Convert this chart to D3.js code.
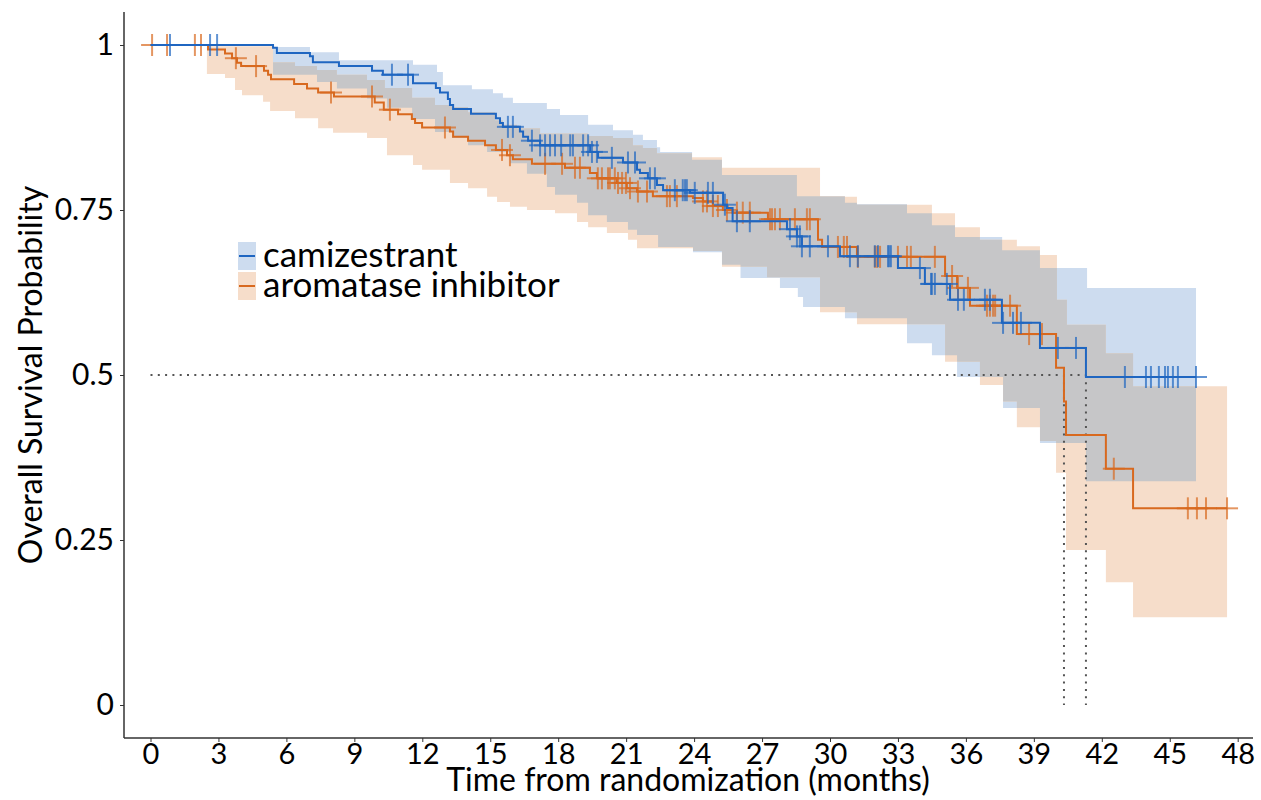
<!DOCTYPE html>
<html>
<head>
<meta charset="utf-8">
<script src="https://cdn.jsdelivr.net/npm/d3@7"></script>
<style>
  body { margin: 0; background: #fff; }
  text { font-family: Lato, "Open Sans", sans-serif; fill: #000; }
</style>
</head>
<body>
<svg id="chart" width="1261" height="800"></svg>
<script>
// Kaplan-Meier steps: [month, survival after the step]
const camiSteps = [[0,1],[5.41,0.996],[5.58,0.988],[7.04,0.983],[7.17,0.974],[8.32,0.968],[9.78,0.961],[10.26,0.955],
  [11.59,0.942],[12.60,0.935],[12.78,0.928],[13.13,0.918],[13.22,0.909],[13.36,0.903],[14.15,0.896],[15.25,0.889],
  [15.43,0.882],[15.56,0.876],[16.31,0.869],[16.45,0.861],[16.67,0.855],[17.2,0.848],[19.41,0.838],[19.76,0.829],
  [20.86,0.822],[21.48,0.811],[21.61,0.806],[21.96,0.798],[22.36,0.788],[22.63,0.780],[23.82,0.776],[25.28,0.758],
  [25.45,0.753],[25.7,0.733],[28.1,0.721],[28.54,0.710],[28.76,0.695],[30.44,0.680],[33.0,0.662],[34.19,0.638],
  [35.3,0.614],[37.59,0.579],[39.27,0.541],[41.3,0.497]]
const camiEnd = 46.16

const aiSteps = [[0,1],[2.54,0.993],[3.29,0.987],[3.60,0.980],[3.82,0.973],[4.0,0.968],[5.01,0.961],[5.19,0.955],
  [5.32,0.948],[6.34,0.941],[6.91,0.934],[7.40,0.928],[8.10,0.922],[9.9,0.913],[10.3,0.902],[10.93,0.895],
  [11.54,0.888],[11.68,0.882],[11.99,0.875],[13.22,0.869],[13.36,0.861],[14.02,0.855],[14.77,0.848],[15.25,0.841],
  [15.74,0.833],[16.0,0.827],[16.84,0.820],[18.3,0.814],[19.4,0.806],[19.71,0.798],[20.59,0.791],[21.03,0.783],
  [21.48,0.778],[22.18,0.771],[23.95,0.768],[24.39,0.763],[24.83,0.756],[25.27,0.750],[25.7,0.746],[27.26,0.736],
  [29.47,0.705],[29.65,0.694],[31.19,0.679],[35.08,0.650],[35.61,0.632],[36.18,0.605],[38.25,0.562],[39.98,0.511],
  [40.33,0.460],[40.42,0.409],[42.18,0.358],[43.38,0.298]]
const aiEnd = 47.53

// censored times (months)
const camiCensor = [0.86,2.63,2.94,10.66,11.37,15.78,16.0,16.84,17.2,17.42,17.64,17.86,18.13,18.53,18.65,19.1,19.32,
  19.49,19.71,20.37,21.08,21.39,22.05,22.27,23.15,23.5,23.6,23.68,24.03,24.61,24.83,25.36,25.89,26.46,28.23,28.54,
  28.67,28.76,29.11,29.91,30.88,31.23,31.98,32.12,32.56,32.62,32.69,33.97,34.46,34.5,34.63,35.16,35.65,35.91,36.84,
  37.06,37.64,38.08,38.43,40.06,40.86,43.02,43.95,44.17,44.52,44.79,44.92,45.14,45.36,46.16]
const aiCensor = [0.07,0.73,1.96,2.23,3.77,4.66,7.97,9.78,10.57,13.0,15.52,15.87,17.42,18.17,18.74,18.96,19.75,19.93,
  20.2,20.28,20.5,20.64,20.82,20.99,21.17,21.52,21.92,22.8,22.93,23.24,24.39,24.57,24.83,25.05,25.45,25.89,26.15,
  26.46,27.35,27.44,27.57,27.79,28.45,28.98,29.11,30.35,30.61,30.75,31.23,31.98,32.08,32.21,33.0,33.4,33.57,34.63,
  35.39,35.65,36.09,36.93,37.06,37.2,37.29,37.95,38.79,39.36,42.53,45.8,46.2,46.6,47.53]

// confidence band edges: [month, value from that month on]
const camiUpper = [[0,1],[5.41,0.997],[7.04,0.989],[8.32,0.977],[11.59,0.970],[12.65,0.959],[12.91,0.939],[14.19,0.933],
  [15.12,0.927],[15.56,0.920],[16.0,0.912],[17.5,0.903],[18.08,0.894],[19.32,0.879],[20.42,0.871],[21.3,0.864],
  [21.74,0.856],[22.36,0.845],[22.5,0.838],[23.91,0.826],[25.23,0.803],[28.54,0.771],[30.66,0.761],[31.19,0.759],
  [33.4,0.745],[34.5,0.727],[35.52,0.709],[37.6,0.689],[39.27,0.662],[41.35,0.632]]
const camiLower = [[0,1],[5.41,0.955],[7.35,0.944],[8.23,0.934],[9.56,0.919],[10.44,0.905],[11.55,0.888],[12.56,0.868],
  [13.31,0.859],[14.02,0.848],[14.86,0.838],[15.87,0.821],[16.62,0.805],[17.5,0.785],[17.86,0.773],[18.83,0.761],
  [19.32,0.742],[20.15,0.732],[21.08,0.720],[21.48,0.712],[22.41,0.694],[23.95,0.686],[25.23,0.667],[26.05,0.647],
  [27.79,0.632],[28.58,0.618],[28.81,0.603],[30.66,0.586],[33.4,0.548],[34.5,0.530],[35.61,0.497],[37.64,0.45],
  [39.27,0.397],[41.3,0.339]]
const aiUpper = [[0,1],[2.49,0.998],[5.41,0.974],[6.38,0.968],[7.35,0.962],[8.23,0.955],[9.56,0.947],[10.35,0.935],
  [11.55,0.920],[12.56,0.909],[13.31,0.906],[14.02,0.898],[15.21,0.886],[15.56,0.879],[16.18,0.874],[17.2,0.866],
  [19.32,0.862],[20.42,0.859],[21.3,0.848],[21.74,0.844],[22.36,0.836],[23.91,0.830],[25.23,0.814],[29.56,0.771],
  [30.66,0.770],[31.19,0.758],[34.5,0.745],[35.52,0.724],[36.62,0.705],[38.25,0.695],[39.27,0.682],[40.02,0.614],
  [40.46,0.576],[42.18,0.533],[43.38,0.483]]
const aiLower = [[0,1],[2.49,0.956],[3.29,0.95],[3.73,0.932],[4.04,0.924],[4.97,0.914],[5.28,0.9],[6.38,0.889],
  [7.4,0.874],[8.06,0.867],[9.56,0.859],[10.44,0.833],[11.59,0.818],[11.99,0.811],[13.22,0.791],[14.02,0.783],
  [14.86,0.770],[15.3,0.762],[15.87,0.755],[16.62,0.750],[17.86,0.745],[18.83,0.732],[19.32,0.724],[20.15,0.715],
  [21.08,0.705],[21.48,0.692],[23.95,0.688],[25.23,0.664],[27.22,0.648],[29.56,0.595],[31.19,0.577],[35.08,0.52],
  [36.62,0.485],[37.64,0.46],[38.25,0.421],[39.27,0.40],[39.98,0.352],[40.42,0.235],[42.18,0.186],[43.38,0.133]]

const medianTimes = [40.33, 41.3]
const xTicks = d3.range(0, 49, 3)
const yTicks = [0, 0.25, 0.5, 0.75, 1]
const yTickLabels = ["0", "0.25", "0.5", "0.75", "1"]
const groups = ["camizestrant", "aromatase inhibitor"]

const blue = "#1f66c1", orange = "#d8691f"
const blueFill = "#cddcef", orangeFill = "#f6ddca", grayFill = "#c6c6c8"

let svg = d3.select("#chart")

let x = d3.scaleLinear().domain([0, 48]).range([150.5, 1237.7])
let y = d3.scaleLinear().domain([0, 1]).range([705, 45])

function stepAt(steps, t) {
  let v = steps[0][1]
  for (let s of steps) { if (s[0] <= t) v = s[1]; else break }
  return v
}

function bandData(upper, lower, end) {
  let times = Array.from(new Set(upper.map(d => d[0]).concat(lower.map(d => d[0])))).sort((a, b) => a - b)
  let rows = times.map(t => ({ t: t, lo: stepAt(lower, t), hi: stepAt(upper, t) }))
  rows.push({ t: end, lo: stepAt(lower, end), hi: stepAt(upper, end) })
  return rows
}

let area = d3.area().curve(d3.curveStepAfter)
  .x(d => x(d.t)).y0(d => y(d.lo)).y1(d => y(d.hi))

let camiBand = bandData(camiUpper, camiLower, camiEnd)
let aiBand = bandData(aiUpper, aiLower, aiEnd)

svg.append("clipPath").attr("id", "camiClip")
  .append("path").attr("d", area(camiBand))

svg.append("path").attr("d", area(camiBand)).attr("fill", blueFill)
svg.append("path").attr("d", area(aiBand)).attr("fill", orangeFill)
// overlap of the two bands
svg.append("path").attr("d", area(aiBand)).attr("fill", grayFill).attr("clip-path", "url(#camiClip)")

// median reference lines
let dots = svg.append("g").attr("stroke", "#555").attr("stroke-width", 2).attr("stroke-dasharray", "2,5.3")
dots.append("line").attr("x1", x(0)).attr("x2", x(d3.max(medianTimes))).attr("y1", y(0.5)).attr("y2", y(0.5))
medianTimes.forEach(m => {
  dots.append("line").attr("x1", x(m)).attr("x2", x(m)).attr("y1", y(0.5)).attr("y2", y(0))
})

let line = d3.line().curve(d3.curveStepAfter).x(d => x(d[0])).y(d => y(d[1]))

function drawArm(steps, end, censor, color) {
  let pts = steps.concat([[end, steps[steps.length - 1][1]]])
  svg.append("path").attr("d", line(pts)).attr("fill", "none")
    .attr("stroke", color).attr("stroke-width", 2)
  let g = svg.append("g").attr("stroke", color).attr("stroke-width", 2).attr("stroke-opacity", 0.7)
  censor.forEach(t => {
    let cx = x(t), cy = y(stepAt(steps, t))
    g.append("line").attr("x1", cx).attr("x2", cx).attr("y1", cy - 11).attr("y2", cy + 11)
    g.append("line").attr("x1", cx - 11).attr("x2", cx + 11).attr("y1", cy).attr("y2", cy)
  })
}
drawArm(aiSteps, aiEnd, aiCensor, orange)
drawArm(camiSteps, camiEnd, camiCensor, blue)

// axes
let axisColor = "#333"
svg.append("line").attr("x1", 124).attr("x2", 124).attr("y1", 12).attr("y2", 738)
  .attr("stroke", axisColor).attr("stroke-width", 1.5)
svg.append("line").attr("x1", 124).attr("x2", 1253).attr("y1", 738).attr("y2", 738)
  .attr("stroke", axisColor).attr("stroke-width", 1.5)

let xAxis = svg.append("g").attr("transform", "translate(0,738)")
  .call(d3.axisBottom(x).tickValues(xTicks).tickSize(4).tickPadding(1).tickFormat(d3.format("d")))
xAxis.select(".domain").remove()
xAxis.selectAll("line").attr("stroke", axisColor)
xAxis.selectAll("text").attr("font-size", 29).attr("font-family", "Lato")

let yAxis = svg.append("g").attr("transform", "translate(124,0)")
  .call(d3.axisLeft(y).tickValues(yTicks).tickSize(4).tickPadding(6).tickFormat((d, i) => yTickLabels[i]))
yAxis.select(".domain").remove()
yAxis.selectAll("line").attr("stroke", axisColor)
yAxis.selectAll("text").attr("font-size", 30).attr("font-family", "Lato")

svg.append("text").attr("x", 688).attr("y", 791).attr("text-anchor", "middle")
  .attr("font-size", 32).text("Time from randomization (months)")
svg.append("text").attr("transform", "translate(42,375) rotate(-90)").attr("text-anchor", "middle")
  .attr("font-size", 32).text("Overall Survival Probability")

// legend
let legend = svg.append("g").attr("transform", "translate(238,242)")
let legendFills = [blueFill, orangeFill], legendLines = [blue, orange]
groups.forEach((name, i) => {
  let row = legend.append("g").attr("transform", "translate(0," + (i * 30) + ")")
  row.append("rect").attr("width", 18).attr("height", 28).attr("fill", legendFills[i])
  row.append("line").attr("x1", 1).attr("x2", 17).attr("y1", 14).attr("y2", 14)
    .attr("stroke", legendLines[i]).attr("stroke-width", 2)
  row.append("text").attr("x", 25).attr("y", 25).attr("font-size", 35).text(name)
})
</script>
</body>
</html>
